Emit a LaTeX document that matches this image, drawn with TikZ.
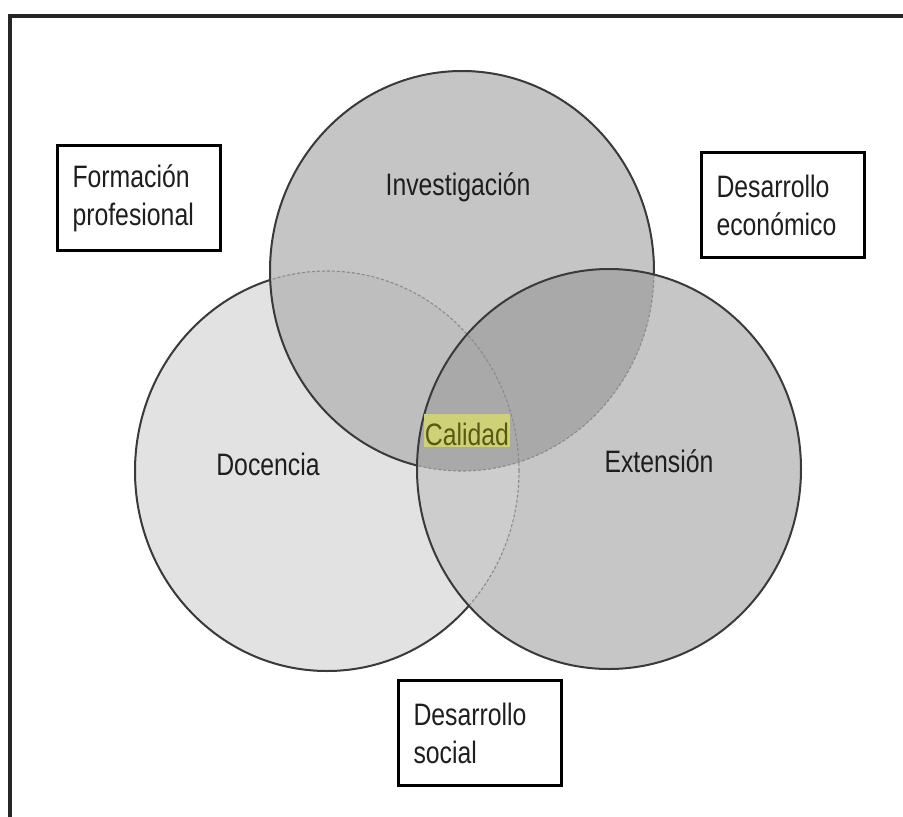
\documentclass[tikz,border=0pt]{standalone}
\usepackage{fontspec}
\setmainfont[FakeStretch=0.8]{Liberation Sans}
\definecolor{docfill}{HTML}{E2E2E2}
\definecolor{invfill}{HTML}{C5C5C5}
\definecolor{extfill}{HTML}{C6C6C6}
\definecolor{difill}{HTML}{BEBEBE}
\definecolor{defill}{HTML}{CDCDCD}
\definecolor{iefill}{HTML}{A9A9A9}
\definecolor{edge}{HTML}{3A3A3A}
\definecolor{hidden}{HTML}{8A8A8A}
\definecolor{txt}{HTML}{1E1E1E}
\definecolor{hl}{HTML}{CED178}
\definecolor{hltxt}{HTML}{595914}
\tikzset{
  solidedge/.style={draw=edge, line width=2pt},
  hiddenedge/.style={draw=hidden, line width=1.1pt, dash pattern=on 3pt off 2pt},
  textbox/.style={draw=black, line width=3pt, align=left, text width=133pt, inner xsep=15pt, minimum height=105pt, text=txt, font=\fontsize{31}{38}\selectfont},
  circlabel/.style={anchor=base, text=txt, font=\fontsize{31}{38}\selectfont, inner sep=0pt},
  calidadlabel/.style={anchor=base, fill=hl, text=hltxt, font=\fontsize{31}{38}\selectfont, inner xsep=1pt, inner ysep=0pt, text height=31pt, text depth=2pt},
  framestyle/.style={draw=black!85, line width=3.2pt},
  oval/.style={x radius=192pt, y radius=200pt}
}
\begin{document}
\begin{tikzpicture}[x=1pt, y=-1pt]
\useasboundingbox (0,0) rectangle (903,817);
\coordinate (inv) at (462,271);
\coordinate (doc) at (327,471);
\coordinate (ext) at (609,469);
% fills
\fill[docfill] (doc) ellipse[oval];
\fill[invfill] (inv) ellipse[oval];
\begin{scope}
  \clip (inv) ellipse[oval];
  \fill[difill] (doc) ellipse[oval];
\end{scope}
\fill[extfill] (ext) ellipse[oval];
\begin{scope}
  \clip (ext) ellipse[oval];
  \fill[defill] (doc) ellipse[oval];
  \fill[iefill] (inv) ellipse[oval];
\end{scope}
% hidden outlines
\draw[hiddenedge] (doc) ellipse[oval];
\draw[hiddenedge] (inv) ellipse[oval];
% visible outlines
\draw[solidedge] (ext) ellipse[oval];
\begin{scope}[even odd rule]
  \clip (-10,-10) rectangle (920,830) (ext) ellipse[oval];
  \draw[solidedge] (inv) ellipse[oval];
  \begin{scope}[even odd rule]
    \clip (-10,-10) rectangle (920,830) (inv) ellipse[oval];
    \draw[solidedge] (doc) ellipse[oval];
  \end{scope}
\end{scope}
% frame
\coordinate (ftr) at (903,16);
\coordinate (ftl) at (10,16);
\coordinate (fbl) at (10,817);
\draw[framestyle] (ftr) -- (ftl) -- (fbl);
% labels
\node[circlabel] (linv) at (458,195) {Investigación};
\node[circlabel] (ldoc) at (268,475) {Docencia};
\node[circlabel] (lext) at (659,472) {Extensión};
\node[calidadlabel] (lcal) at (467,445) {Calidad};
% boxes
\node[textbox] (form) at (139,198) {Formación\\profesional};
\node[textbox] (econ) at (783,205) {Desarrollo\\económico};
\node[textbox] (soc) at (480,733) {Desarrollo\\social};
\end{tikzpicture}
\end{document}
